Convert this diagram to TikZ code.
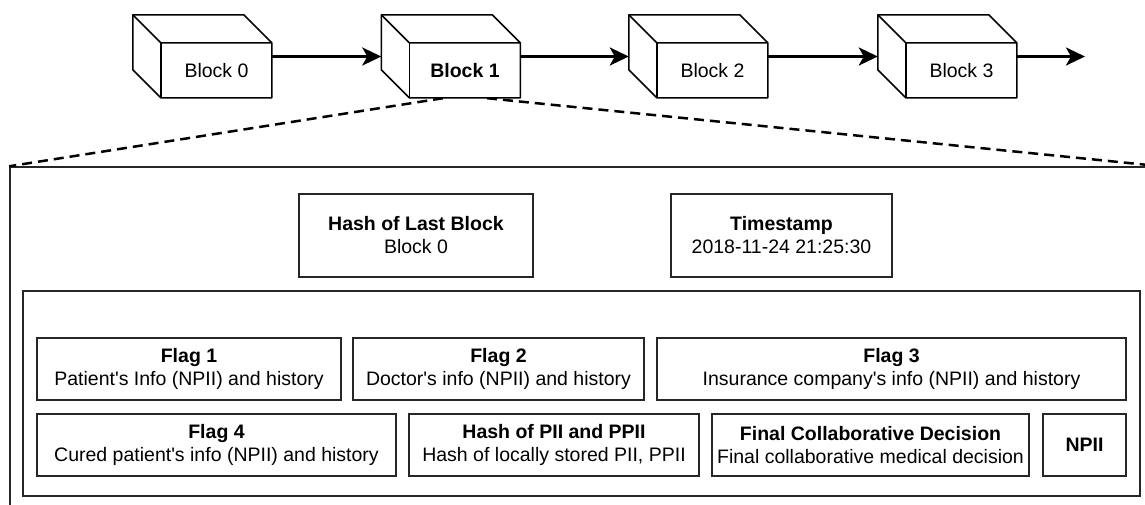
\documentclass[tikz,border=0pt]{standalone}
\usepackage{fontspec}
\setmainfont{Liberation Sans}
\usetikzlibrary{arrows.meta,calc}

\newcommand{\testo}{\fontsize{19.5}{23}\selectfont}

\begin{document}
\begin{tikzpicture}[
	x=1pt, y=-1pt,
	blocco/.style={rectangle, inner sep=0pt,
		minimum width=139pt, minimum height=83pt},
	spigolo/.style={line width=1.5pt, line join=round, black},
	freccia/.style={line width=3pt,
		-{Stealth[length=19pt, width=18pt, inset=5pt]}},
	tratteggio/.style={line width=2.5pt, dash pattern=on 10pt off 6pt},
	cornice/.style={draw=black!85, line width=1.5pt, inner sep=0pt},
	riquadro/.style={draw=black!85, line width=1.5pt, inner sep=0pt,
		align=center, font=\testo, minimum height=62pt},
	]
	\clip (0,0) rectangle (1145,504);
	
	% catena dei blocchi
	\node[blocco] (b0) at (202.5,56.5){};
	\node[blocco] (b1) at (451,56.5){};
	\node[blocco] (b2) at (698.5,56.5){};
	\node[blocco] (b3) at (947.5,56.5){};
	\coordinate (fine) at (1085,56.5);
	
	% contenuto del blocco 1
	\node[cornice, minimum width=1150pt, minimum height=353pt] (guscio) at (585,343.5){};
	\coordinate (zl) at ($(b1.south)+(-8,0)$);
	\coordinate (zr) at ($(b1.south)+(36,0)$);
	\draw[tratteggio] (zl)--(guscio.north west);
	\draw[tratteggio] (zr)--(guscio.north east);
	
	% cubi
	\foreach \i/\lab in {0/Block 0, 1/\textbf{Block 1}, 2/Block 2, 3/Block 3}{
		\draw[spigolo, fill=white] (b\i.north west) -- ++(111,0) -- ++(28,28)
		-- ++(0,55) -- ++(-111,0) -- ++(-28,-28) -- cycle;
		\draw[spigolo] (b\i.north west) -- ++(28,28) -- ++(111,0);
		\draw[spigolo] ([xshift=28pt]b\i.south west) -- ++(0,-55);
		\node[font=\testo] (l\i) at ([shift={(14pt,-14pt)}]b\i.center){\lab};
	}
	
	\draw[freccia] (b0)--(b1);
	\draw[freccia] (b1)--(b2);
	\draw[freccia] (b2)--(b3);
	\draw[freccia] (b3.east)--(fine);
	
	% intestazione
	\node[riquadro, minimum width=234pt, minimum height=83pt] (hlb) at (416,235.5)
	{\textbf{Hash of Last Block}\\Block 0};
	\node[riquadro, minimum width=221pt, minimum height=83pt] (ts) at (781.5,235.5)
	{\textbf{Timestamp}\\2018-11-24 21:25:30};
	
	% dati
	\node[cornice, minimum width=1117pt, minimum height=205pt] (dati) at (581.5,393.5){};
	
	\node[riquadro, minimum width=304pt] (f1) at (189,369)
	{\textbf{Flag 1}\\Patient\textquotesingle s Info (NPII) and history};
	\node[riquadro, minimum width=291pt] (f2) at (498.5,369)
	{\textbf{Flag 2}\\Doctor\textquotesingle s info (NPII) and history};
	\node[riquadro, minimum width=469pt] (f3) at (891.5,369)
	{\textbf{Flag 3}\\Insurance company\textquotesingle s info (NPII) and history};
	
	\node[riquadro, minimum width=359pt] (f4) at (216.5,445)
	{\textbf{Flag 4}\\Cured patient\textquotesingle s info (NPII) and history};
	\node[riquadro, minimum width=290pt] (hp) at (554,445)
	{\textbf{Hash of PII and PPII}\\Hash of locally stored PII, PPII};
	\node[riquadro, minimum width=317pt] (fcd) at (870.5,445)
	{\textbf{Final Collaborative Decision}\\Final collaborative medical decision};
	\node[riquadro, minimum width=83pt] (np) at (1084.5,445){\textbf{NPII}};
	
\end{tikzpicture}
\end{document}
